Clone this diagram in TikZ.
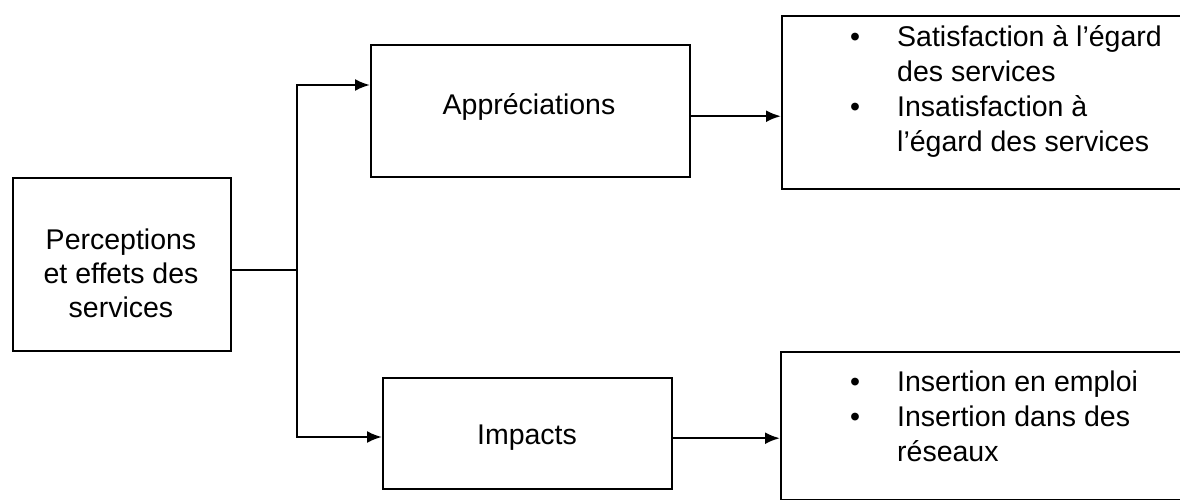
\documentclass[tikz,border=0pt]{standalone}
\usepackage{fontspec}
\setmainfont{Liberation Sans}
\usetikzlibrary{arrows.meta}
\begin{document}
\begin{tikzpicture}[x=1pt,y=-1pt,
  box/.style={draw, line width=2.4pt, inner sep=0pt},
  conn/.style={line width=2.4pt},
  arr/.style={line width=2.4pt, -{Latex[length=15pt,width=12pt]}},
  txt/.style={font=\fontsize{28.5}{34}\selectfont, inner sep=0pt, align=center},
  list/.style={font=\fontsize{28.5}{35}\selectfont, inner sep=0pt, anchor=base west}]
\useasboundingbox (0,0) rectangle (1180,500);
\clip (0,0) rectangle (1180,500);
% boxes
\node[box, minimum width=218pt, minimum height=173pt, anchor=north west] (perc) at (12,177) {};
\node[box, minimum width=319pt, minimum height=132pt, anchor=north west] (appr) at (370,44) {};
\node[box, minimum width=289pt, minimum height=111pt, anchor=north west] (imp) at (382,377) {};
\node[box, minimum width=420pt, minimum height=173pt, anchor=north west] (sat) at (781,15) {};
\node[box, minimum width=420pt, minimum height=148pt, anchor=north west] (ins) at (780,351) {};
% texts
\node[txt] (perct) at (121,273) {Perceptions\\et effets des\\services};
\node[txt] (apprt) at (529,107) {Appréciations};
\node[txt] (impt) at (527,438) {Impacts};
\node[list] (satt) at (850,47) {\begin{tabular}[t]{@{}p{47pt}@{}l@{}}
\textbullet & Satisfaction à l’égard\\
 & des services\\
\textbullet & Insatisfaction à\\
 & l’égard des services
\end{tabular}};
\node[list] (inst) at (850,391) {\begin{tabular}[t]{@{}p{47pt}@{}l@{}}
\textbullet & Insertion en emploi\\
\textbullet & Insertion dans des\\
 & réseaux
\end{tabular}};
% connectors
\coordinate (j) at (297,270);
\coordinate (t1) at (297,85);
\coordinate (t2) at (297,437);
\draw[conn] (perc.east |- j) -- (j);
\draw[arr] (j) -- (t1) -- (t1 -| appr.west);
\draw[arr] (j) -- (t2) -- (t2 -| imp.west);
\draw[arr] ([yshift=-5pt]appr.east) -- ([yshift=-5pt]appr.east -| sat.west);
\draw[arr] ([yshift=-4.5pt]imp.east) -- ([yshift=-4.5pt]imp.east -| ins.west);
\end{tikzpicture}
\end{document}
